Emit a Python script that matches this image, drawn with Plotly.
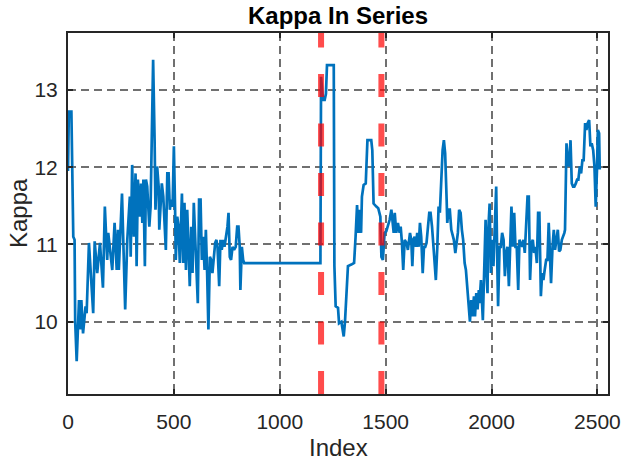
import plotly.graph_objects as go

# Kappa readings along the sample index
index_pts = [
    0, 4, 16, 19, 25, 31, 34, 41, 52, 60, 63, 71, 83, 88, 94, 99, 119, 126, 138, 151,
    165, 174, 185, 190, 209, 220, 230, 236, 240, 255, 270, 280, 292, 296, 303, 311, 319, 324, 330, 340,
    345, 351, 356, 363, 368, 374, 379, 384, 390, 395, 402, 409, 413, 421, 428, 431, 437, 443, 450, 456,
    462, 469, 475, 481, 487, 494, 500, 506, 509, 516, 522, 528, 538, 544, 550, 557, 563, 569, 575, 582,
    588, 594, 601, 607, 613, 619, 626, 632, 638, 645, 651, 657, 663, 670, 676, 682, 689, 695, 701, 706,
    714, 720, 726, 733, 739, 745, 753, 758, 764, 770, 777, 784, 792, 799, 805, 811, 814, 821, 827, 832,
    1192, 1195, 1200, 1204, 1212, 1218, 1223, 1255, 1258, 1264, 1275, 1280, 1291, 1302, 1308, 1314, 1322, 1338, 1351, 1358,
    1365, 1371, 1377, 1384, 1388, 1396, 1406, 1414, 1432, 1437, 1443, 1456, 1465, 1475, 1480, 1487, 1495, 1503, 1519, 1527,
    1538, 1543, 1550, 1558, 1566, 1571, 1577, 1583, 1590, 1599, 1605, 1615, 1621, 1626, 1631, 1637, 1643, 1649, 1656, 1662,
    1668, 1675, 1681, 1687, 1693, 1700, 1706, 1712, 1719, 1728, 1737, 1744, 1750, 1756, 1763, 1769, 1775, 1781, 1788, 1791,
    1797, 1803, 1810, 1816, 1822, 1829, 1835, 1841, 1847, 1854, 1860, 1866, 1873, 1879, 1885, 1891, 1898, 1904, 1910, 1917,
    1922, 1928, 1934, 1940, 1943, 1950, 1956, 1959, 1965, 1972, 1975, 1981, 1984, 1991, 1997, 2003, 2009, 2016, 2022, 2028,
    2031, 2038, 2044, 2050, 2057, 2063, 2069, 2075, 2082, 2088, 2094, 2101, 2107, 2113, 2119, 2126, 2132, 2138, 2145, 2151,
    2157, 2163, 2170, 2176, 2182, 2189, 2195, 2201, 2207, 2214, 2220, 2226, 2233, 2239, 2245, 2251, 2258, 2264, 2270, 2272,
    2278, 2281, 2288, 2294, 2300, 2307, 2313, 2319, 2325, 2332, 2338, 2344, 2347, 2351, 2354, 2360, 2366, 2373, 2379, 2385,
    2391, 2398, 2404, 2410, 2417, 2423, 2429, 2435, 2442, 2448, 2454, 2461, 2467, 2473, 2480, 2486, 2492, 2498, 2502, 2508,
    2511,
]
kappa_pts = [
    11.95, 12.72, 12.72, 11.90, 11.10, 11.06, 10.00, 9.49, 10.28, 9.90, 10.28, 9.85, 10.20, 10.11, 10.63, 11.02, 10.11, 11.04, 10.63, 11.02,
    10.44, 11.49, 10.80, 11.15, 10.67, 11.28, 10.67, 11.19, 10.67, 11.66, 10.16, 11.06, 11.62, 10.84, 12.03, 11.10, 11.92, 10.72, 11.84, 11.36,
    11.79, 11.28, 11.84, 10.72, 11.84, 11.75, 11.49, 11.23, 11.49, 12.35, 13.39, 12.35, 11.45, 12.01, 11.75, 11.19, 11.45, 11.79, 11.62, 11.19,
    10.93, 11.92, 11.92, 11.45, 11.58, 11.49, 12.27, 11.41, 10.80, 11.36, 11.23, 10.76, 11.66, 10.76, 11.54, 10.67, 11.45, 10.97, 10.46, 11.23,
    10.63, 11.54, 11.02, 10.72, 10.24, 11.58, 11.58, 10.80, 11.10, 10.67, 11.19, 10.63, 9.90, 10.84, 10.80, 10.63, 10.89, 11.02, 11.06, 10.97,
    10.46, 11.06, 10.93, 11.06, 10.97, 11.06, 11.23, 11.41, 10.84, 10.80, 10.97, 10.93, 10.97, 11.23, 11.23, 10.97, 10.41, 10.97, 10.80, 10.76,
    10.76, 13.17, 12.95, 12.87, 12.87, 12.95, 13.32, 13.32, 10.72, 10.20, 10.18, 9.98, 10.00, 9.81, 10.00, 10.37, 10.72, 10.74, 10.76, 11.10,
    11.51, 11.15, 11.45, 11.15, 11.62, 11.77, 11.79, 12.35, 12.35, 12.22, 11.53, 11.49, 11.47, 11.36, 10.84, 10.80, 11.15, 11.17, 11.32, 11.45,
    11.15, 11.41, 11.15, 11.28, 11.15, 11.23, 11.02, 10.67, 11.06, 11.02, 10.93, 11.15, 11.06, 10.72, 11.06, 11.10, 10.97, 11.15, 10.97, 11.28,
    11.10, 10.63, 10.97, 10.97, 11.02, 11.23, 11.41, 11.41, 11.23, 10.89, 10.54, 10.97, 11.49, 11.41, 11.97, 12.22, 12.35, 12.18, 11.58, 11.28,
    11.45, 11.45, 11.19, 11.10, 11.06, 10.89, 11.06, 11.15, 11.45, 11.41, 11.19, 11.06, 10.76, 10.67, 10.46, 10.24, 10.00, 10.28, 10.07, 10.33,
    10.07, 10.37, 10.16, 10.41, 10.24, 10.54, 10.20, 10.02, 10.63, 11.32, 10.72, 10.37, 11.15, 11.53, 10.63, 11.06, 10.72, 11.41, 11.75, 10.63,
    10.20, 10.97, 10.97, 11.15, 11.06, 10.59, 10.89, 10.97, 10.46, 10.97, 11.49, 10.97, 11.41, 10.97, 10.97, 10.41, 11.06, 11.02, 10.97, 11.06,
    10.89, 11.23, 11.62, 11.62, 10.54, 11.02, 11.06, 10.89, 10.97, 10.76, 11.41, 11.41, 10.33, 10.63, 10.54, 10.67, 10.80, 10.80, 11.28, 11.15,
    10.54, 10.50, 10.97, 11.19, 10.93, 11.10, 11.19, 10.91, 10.93, 11.06, 11.10, 11.15, 11.19, 11.62, 12.31, 12.09, 12.01, 12.35, 11.79, 11.75,
    11.75, 11.79, 11.84, 11.84, 12.01, 11.92, 12.09, 12.09, 12.57, 12.48, 12.57, 12.61, 12.27, 12.31, 12.22, 12.01, 11.49, 11.97, 12.48, 12.44,
    11.97,
]

# Segment boundaries marked with vertical dashed lines
boundary_idx = [1195, 1480]

x_range = [0, 2550]
y_range = [9.065, 13.737]
x_ticks = [0, 500, 1000, 1500, 2000, 2500]
y_ticks = [10, 11, 12, 13]

FONT = "Liberation Sans, Arial, Helvetica, sans-serif"
INK = "#262626"

fig = go.Figure()
fig.add_trace(go.Scatter(
    x=index_pts, y=kappa_pts, mode="lines",
    line=dict(color="#0072BD", width=2.7),
    showlegend=False, hoverinfo="skip",
))
for b in boundary_idx:
    fig.add_trace(go.Scatter(
        x=[b, b], y=[y_range[0], y_range[1]], mode="lines",
        line=dict(color="rgba(255,0,0,0.7)", width=6, dash="23px,26.5px"),
        showlegend=False, hoverinfo="skip",
    ))

axis_common = dict(
    showline=True, linecolor=INK, linewidth=2, mirror="allticks",
    ticks="inside", ticklen=5, tickwidth=1.5, tickcolor=INK,
    showgrid=True, gridcolor="#707070", gridwidth=1.5, griddash="8px,5px",
    zeroline=False,
    tickfont=dict(family=FONT, size=21, color=INK),
)

fig.update_xaxes(range=x_range, tickvals=x_ticks, ticklabelstandoff=8, **axis_common)
fig.update_yaxes(range=y_range, tickvals=y_ticks, ticklabelstandoff=4, **axis_common)

fig.update_layout(
    width=623, height=460,
    margin=dict(l=68, r=15, t=33, b=66, autoexpand=False),
    paper_bgcolor="white", plot_bgcolor="white",
    title=dict(
        text="<b>Kappa In Series</b>",
        font=dict(family=FONT, size=24, color="black"),
        x=338 / 623, xref="container", xanchor="center",
        y=1 - 15.5 / 460, yref="container", yanchor="middle",
    ),
    annotations=[
        dict(text="Index", x=0.5, y=(394 - 447) / 361, xref="paper", yref="paper",
             xanchor="center", yanchor="middle", showarrow=False,
             font=dict(family=FONT, size=24, color=INK)),
        dict(text="Kappa", x=(18.5 - 68) / 540, y=0.5, xref="paper", yref="paper",
             xanchor="center", yanchor="middle", textangle=-90, showarrow=False,
             font=dict(family=FONT, size=24, color=INK)),
    ],
)

fig.write_html("out.html")
